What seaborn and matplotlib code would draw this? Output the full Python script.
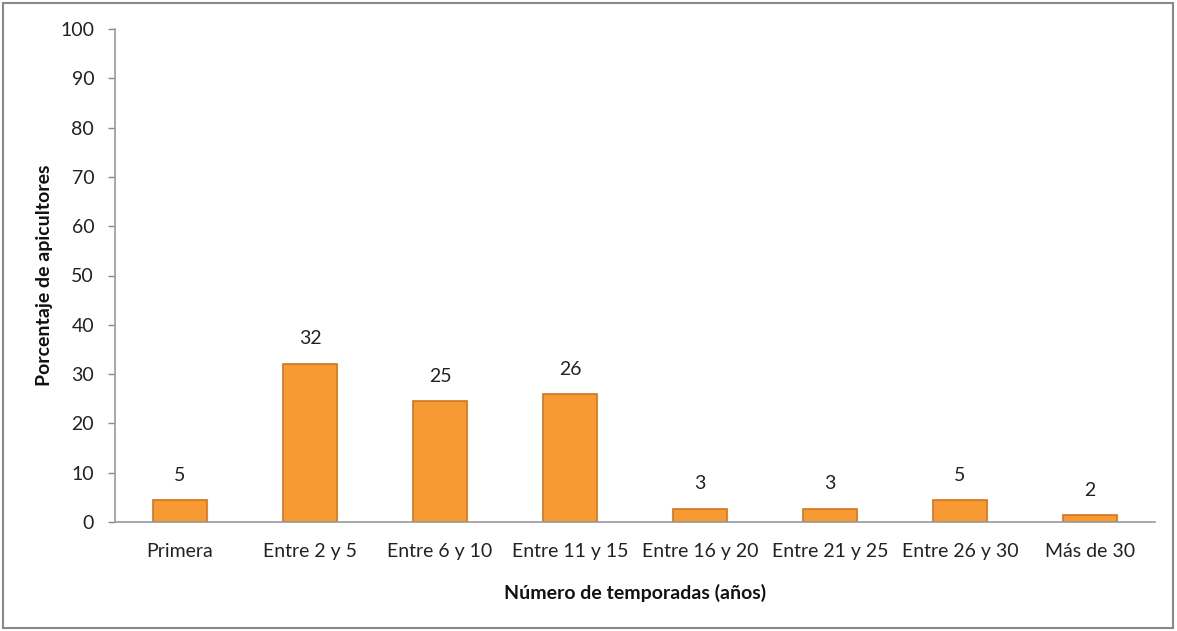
import matplotlib
matplotlib.use("Agg")
import matplotlib.pyplot as plt
import seaborn as sns
import pandas as pd
from matplotlib.patches import Rectangle

categories = ["Primera", "Entre 2 y 5", "Entre 6 y 10", "Entre 11 y 15",
              "Entre 16 y 20", "Entre 21 y 25", "Entre 26 y 30", "Más de 30"]
values = [4.4, 32.1, 24.5, 25.9, 2.7, 2.7, 4.4, 1.4]
labels = ["5", "32", "25", "26", "3", "3", "5", "2"]
yticks = [0, 10, 20, 30, 40, 50, 60, 70, 80, 90, 100]

sns.set_theme(style="white")
plt.rcParams['font.family'] = ['Lato', 'DejaVu Sans']

df = pd.DataFrame({"cat": categories, "val": values})

fig = plt.figure(figsize=(11.77, 6.31), dpi=100)
ax = fig.add_axes([115/1177, 1-522/631, (1155-115)/1177, (522-29)/631])
sns.barplot(data=df, x="cat", y="val", ax=ax, color="#F89A33",
            width=0.41, edgecolor="#D2741C", linewidth=1.2, saturation=1)

for bar, lab in zip(ax.patches, labels):
    x = bar.get_x() + bar.get_width() / 2
    ax.text(x, bar.get_height() + 3.3, lab, ha="center", va="bottom",
            fontsize=14, color="#222222")

ax.set_ylim(0, 100)
ax.set_yticks(yticks)
ax.set_xlim(-0.5, len(categories) - 0.5)
ax.tick_params(axis="y", which="both", left=True, length=5, width=1,
               color="#888888", labelsize=14, labelcolor="#222222", pad=10)
ax.tick_params(axis="x", bottom=False, labelsize=14, labelcolor="#222222", pad=9)
for s in ["top", "right"]:
    ax.spines[s].set_visible(False)
for s in ["left", "bottom"]:
    ax.spines[s].set_color("#999999")
    ax.spines[s].set_linewidth(1.2)

ax.set_xlabel("Número de temporadas (años)", fontsize=14, fontweight="bold",
              color="#111111", labelpad=17)
ax.set_ylabel("Porcentaje de apicultores", fontsize=14, fontweight="bold",
              color="#111111", labelpad=5)

fig.patches.append(Rectangle((3/1177, 3/631), 1170/1177, 625/631,
                             transform=fig.transFigure, fill=False,
                             edgecolor="#888888", linewidth=1.5))

fig.savefig("out.png", dpi=100)
